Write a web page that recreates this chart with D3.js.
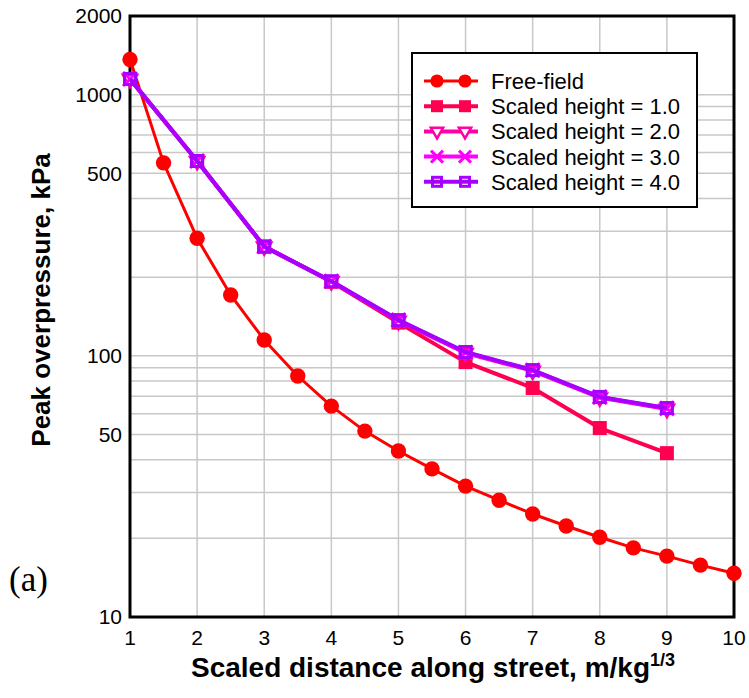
<!DOCTYPE html>
<html>
<head>
<meta charset="utf-8">
<script src="https://cdn.jsdelivr.net/npm/d3@7"></script>
<style>
  body { margin: 0; background: #fff; }
  svg { display: block; font-family: "Liberation Sans", Arial, Helvetica, sans-serif; }
</style>
</head>
<body>
<svg width="749" height="698"></svg>
<script>
// free-field data, every half unit
const freeX = [1, 1.5, 2, 2.5, 3, 3.5, 4, 4.5, 5, 5.5, 6, 6.5, 7, 7.5, 8, 8.5, 9, 9.5, 10];
const freeY = [1363, 548, 282, 171, 115, 83.7, 64.2, 51.5, 43.2, 36.9, 31.7, 28, 24.8, 22.3, 20.2, 18.4, 17.1, 15.8, 14.7];

// scaled height runs, integer distances
const streetX = [1, 2, 3, 4, 5, 6, 7, 8, 9];
const h1 = [1148, 557, 262, 192, 134, 94.6, 75.3, 52.9, 42.4];
const h2 = [1148, 557, 262, 193, 136, 102.5, 87.6, 69.2, 62.6];
const h3 = [1148, 557, 262, 193, 137, 103, 88, 69.5, 62.9];
const h4 = [1148, 557, 262, 193, 137, 103.4, 88.2, 69.6, 63.1];

const xTicks = [1, 2, 3, 4, 5, 6, 7, 8, 9, 10];
const yTicks = [10, 50, 100, 500, 1000, 2000];
const yGrid = [20, 30, 40, 50, 60, 70, 80, 90, 100, 200, 300, 400, 500, 600, 700, 800, 900, 1000];

const series = [
  { name: "Free-field", xs: freeX, ys: freeY, color: "#ff0000", marker: "circle", lw: 3 },
  { name: "Scaled height = 1.0", xs: streetX, ys: h1, color: "#ff0050", marker: "square", lw: 4 },
  { name: "Scaled height = 2.0", xs: streetX, ys: h2, color: "#ff00a8", marker: "triangle", lw: 4 },
  { name: "Scaled height = 3.0", xs: streetX, ys: h3, color: "#ff00ff", marker: "cross", lw: 4 },
  { name: "Scaled height = 4.0", xs: streetX, ys: h4, color: "#a600ff", marker: "open", lw: 4 }
];

const svg = d3.select("svg");
const m = { left: 130, right: 734, top: 16, bottom: 617 };

const x = d3.scaleLinear().domain([1, 10]).range([m.left, m.right]);
const y = d3.scaleLog().domain([10, 2000]).range([m.bottom, m.top]);

// grid
svg.append("g").selectAll("line").data(xTicks.slice(1, -1)).join("line")
  .attr("x1", d => x(d)).attr("x2", d => x(d))
  .attr("y1", m.top).attr("y2", m.bottom)
  .attr("stroke", "#c8c8c8").attr("stroke-width", 1.5);
svg.append("g").selectAll("line").data(yGrid).join("line")
  .attr("x1", m.left).attr("x2", m.right)
  .attr("y1", d => y(d)).attr("y2", d => y(d))
  .attr("stroke", "#c8c8c8").attr("stroke-width", 1.5);

// tick labels
svg.append("g").selectAll("text").data(xTicks).join("text")
  .attr("x", d => x(d)).attr("y", 645)
  .attr("text-anchor", "middle").attr("font-size", 21)
  .text(d => d);
svg.append("g").selectAll("text").data(yTicks).join("text")
  .attr("x", 122).attr("y", d => y(d)).attr("dy", "0.35em")
  .attr("text-anchor", "end").attr("font-size", 21)
  .text(d => d);

// frame
svg.append("rect")
  .attr("x", m.left).attr("y", m.top)
  .attr("width", m.right - m.left).attr("height", m.bottom - m.top)
  .attr("fill", "none").attr("stroke", "#000").attr("stroke-width", 3);

function drawMarker(g, type, color, size) {
  const s = size;
  if (type === "circle") {
    g.append("circle").attr("r", s * 0.55).attr("fill", color);
  } else if (type === "square") {
    g.append("rect").attr("x", -s / 2).attr("y", -s / 2).attr("width", s).attr("height", s).attr("fill", color);
  } else if (type === "triangle") {
    g.append("path").attr("d", d3.symbol(d3.symbolTriangle, s * s * 0.45)())
      .attr("transform", "rotate(180)")
      .attr("fill", "#fff").attr("stroke", color).attr("stroke-width", 2.5);
  } else if (type === "cross") {
    g.append("path").attr("d", `M${-s / 2},${-s / 2}L${s / 2},${s / 2}M${-s / 2},${s / 2}L${s / 2},${-s / 2}`)
      .attr("stroke", color).attr("stroke-width", 3);
  } else {
    g.append("rect").attr("x", -s / 2 + 1.5).attr("y", -s / 2 + 1.5).attr("width", s - 3).attr("height", s - 3)
      .attr("fill", "none").attr("stroke", color).attr("stroke-width", 3);
  }
}

const line = d3.line().x(d => x(d[0])).y(d => y(d[1]));

series.forEach(s => {
  const pts = s.xs.map((v, i) => [v, s.ys[i]]);
  svg.append("path").datum(pts)
    .attr("d", line)
    .attr("fill", "none").attr("stroke", s.color).attr("stroke-width", s.lw)
    .attr("stroke-linejoin", "round");
  pts.forEach(p => {
    const g = svg.append("g").attr("transform", `translate(${x(p[0])},${y(p[1])})`);
    drawMarker(g, s.marker, s.color, 14);
  });
});

// legend
const lg = svg.append("g");
lg.append("rect").attr("x", 412).attr("y", 53).attr("width", 285).attr("height", 154)
  .attr("fill", "#fff").attr("stroke", "#000").attr("stroke-width", 2);
series.forEach((s, i) => {
  const cy = 81 + i * 25.2;
  lg.append("line").attr("x1", 424).attr("x2", 478).attr("y1", cy).attr("y2", cy)
    .attr("stroke", s.color).attr("stroke-width", s.lw);
  [437, 465].forEach(cx => {
    const g = lg.append("g").attr("transform", `translate(${cx},${cy})`);
    drawMarker(g, s.marker, s.color, 12);
  });
  lg.append("text").attr("x", 491).attr("y", cy).attr("dy", "0.36em")
    .attr("font-size", 22).text(s.name);
});

// axis titles
const xt = svg.append("text").attr("x", 433).attr("y", 677)
  .attr("text-anchor", "middle").attr("font-size", 28).attr("font-weight", "bold");
xt.append("tspan").text("Scaled distance along street, m/kg");
xt.append("tspan").attr("dy", -11).attr("font-size", 18).text("1/3");

svg.append("text")
  .attr("transform", "translate(50,300) rotate(-90)")
  .attr("text-anchor", "middle").attr("font-size", 26).attr("font-weight", "bold")
  .text("Peak overpressure, kPa");

svg.append("text").attr("x", 9).attr("y", 591)
  .attr("font-family", "Liberation Serif, Times New Roman, serif").attr("font-size", 35)
  .text("(a)");
</script>
</body>
</html>
